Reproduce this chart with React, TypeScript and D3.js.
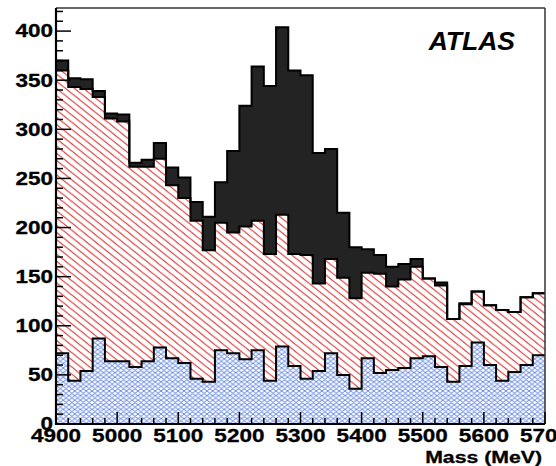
import * as d3 from 'd3';
import { useEffect, useRef } from 'react';

// lower edge of each 20 MeV mass bin
const massBins = [
  4900, 4920, 4940, 4960, 4980, 5000, 5020, 5040, 5060, 5080,
  5100, 5120, 5140, 5160, 5180, 5200, 5220, 5240, 5260, 5280,
  5300, 5320, 5340, 5360, 5380, 5400, 5420, 5440, 5460, 5480,
  5500, 5520, 5540, 5560, 5580, 5600, 5620, 5640, 5660, 5680,
];
const binWidth = 20;

// blue cross-hatched component (bottom of the stack)
const combinatorial = [
  72, 44, 54, 87, 64, 64, 58, 64, 78, 67,
  62, 46, 43, 75, 72, 66, 75, 44, 79, 59,
  46, 54, 72, 50, 36, 67, 52, 55, 57, 67,
  69, 58, 43, 59, 83, 60, 44, 53, 60, 70,
];
// red hatched component
const background = [
  288, 299, 287, 246, 247, 244, 204, 198, 192, 176,
  168, 161, 134, 130, 123, 135, 132, 129, 134, 114,
  126, 89, 96, 99, 92, 87, 101, 85, 90, 93,
  79, 83, 64, 63, 52, 61, 72, 61, 69, 63,
];
// black signal on top
const signal = [
  10, 9, 10, 6, 5, 7, 4, 7, 16, 18,
  21, 19, 34, 41, 83, 123, 157, 171, 191, 187,
  183, 133, 112, 66, 52, 24, 19, 20, 16, 8,
  0, 3, 0, 1, 0, 0, 0, 0, 0, 0,
];

const xTicks = [4900, 5000, 5100, 5200, 5300, 5400, 5500, 5600, 5700];
const yTicks = [0, 50, 100, 150, 200, 250, 300, 350, 400];

const width = 556;
const height = 466;
const plot = { left: 56, right: 545, top: 8, bottom: 424 };
const stretch = 1.25; // the labels in the picture are wide

function App() {
  const dataLayer = useRef(null);
  const axisLayer = useRef(null);

  useEffect(() => {
    const x = d3.scaleLinear().domain([4900, 5700]).range([plot.left, plot.right]);
    const y = d3.scaleLinear().domain([0, 423.5]).range([plot.bottom, plot.top]);

    const rows = massBins.map((m, i) => ({
      mass: m,
      combinatorial: combinatorial[i],
      background: background[i],
      signal: signal[i],
    }));
    const stacked = d3.stack().keys(['combinatorial', 'background', 'signal'])(rows);

    // step points, with a closing point at the upper edge of the last bin
    const steps = (layer) => {
      const pts = layer.map((d) => ({ x: d.data.mass, y0: d[0], y1: d[1] }));
      const last = pts[pts.length - 1];
      pts.push({ x: last.x + binWidth, y0: last.y0, y1: last.y1 });
      return pts;
    };

    const area = d3.area()
      .x((d) => x(d.x))
      .y0((d) => y(d.y0))
      .y1((d) => y(d.y1))
      .curve(d3.curveStepAfter);
    const topLine = d3.line()
      .x((d) => x(d.x))
      .y((d) => y(d.y1))
      .curve(d3.curveStepAfter);

    const g = d3.select(dataLayer.current);
    g.selectAll('*').remove();

    const fills = ['url(#blueCross)', 'url(#redHatch)', '#232323'];
    stacked.forEach((layer, i) => {
      const pts = steps(layer);
      if (i < 2) g.append('path').attr('d', area(pts)).attr('fill', '#fff');
      g.append('path').attr('d', area(pts)).attr('fill', fills[i]);
    });
    stacked.forEach((layer) => {
      g.append('path')
        .attr('d', topLine(steps(layer)))
        .attr('fill', 'none')
        .attr('stroke', '#000')
        .attr('stroke-width', 2);
    });

    // axes, ticks pointing inwards
    const ax = d3.select(axisLayer.current);
    ax.selectAll('*').remove();

    ax.append('line')
      .attr('x1', plot.left).attr('x2', plot.right)
      .attr('y1', plot.top).attr('y2', plot.top)
      .attr('stroke', '#333').attr('stroke-width', 1.5);
    ax.append('line')
      .attr('x1', plot.right).attr('x2', plot.right)
      .attr('y1', plot.top).attr('y2', plot.bottom)
      .attr('stroke', '#333').attr('stroke-width', 1.5);

    const yMinor = d3.range(0, 421, 10);
    ax.selectAll('.ytick').data(yMinor).enter().append('line')
      .attr('x1', plot.left)
      .attr('x2', (d) => plot.left + (d % 50 === 0 ? 15 : 7))
      .attr('y1', (d) => y(d)).attr('y2', (d) => y(d))
      .attr('stroke', '#000').attr('stroke-width', 1.5);

    const xMinor = d3.range(4900, 5701, 20);
    ax.selectAll('.xtick').data(xMinor).enter().append('line')
      .attr('x1', (d) => x(d)).attr('x2', (d) => x(d))
      .attr('y1', plot.bottom)
      .attr('y2', (d) => plot.bottom - (d % 100 === 0 ? 12 : 6))
      .attr('stroke', '#000').attr('stroke-width', 1.5);

    ax.append('line')
      .attr('x1', plot.left).attr('x2', plot.left)
      .attr('y1', plot.top).attr('y2', plot.bottom + 1)
      .attr('stroke', '#000').attr('stroke-width', 2.2);
    ax.append('line')
      .attr('x1', plot.left - 1).attr('x2', plot.right)
      .attr('y1', plot.bottom).attr('y2', plot.bottom)
      .attr('stroke', '#000').attr('stroke-width', 2.2);

    const font = '"Liberation Sans", Arial, sans-serif';
    ax.selectAll('.ylab').data(yTicks).enter().append('text')
      .attr('transform', (d) => `translate(${plot.left - 3},${y(d) + 6.4}) scale(${stretch},1)`)
      .attr('text-anchor', 'end')
      .attr('font-family', font).attr('font-weight', 'bold').attr('font-size', 18)
      .attr('stroke', '#000').attr('stroke-width', 0.3)
      .text((d) => d);
    ax.selectAll('.xlab').data(xTicks).enter().append('text')
      .attr('transform', (d) => `translate(${x(d)},442) scale(${stretch},1)`)
      .attr('text-anchor', 'middle')
      .attr('font-family', font).attr('font-weight', 'bold').attr('font-size', 18)
      .attr('stroke', '#000').attr('stroke-width', 0.3)
      .text((d) => d);

    ax.append('text')
      .attr('transform', `translate(542,463) scale(${stretch},1)`)
      .attr('text-anchor', 'end')
      .attr('font-family', font).attr('font-weight', 'bold').attr('font-size', 17)
      .attr('stroke', '#000').attr('stroke-width', 0.3)
      .text('Mass (MeV)');
    ax.append('text')
      .attr('transform', 'translate(515,50) scale(1.06,1)')
      .attr('text-anchor', 'end')
      .attr('font-family', font).attr('font-weight', 'bold')
      .attr('font-style', 'italic').attr('font-size', 25)
      .text('ATLAS');
  }, []);

  return (
    <div style={{ position: 'absolute', left: 0, top: 0, width, height, overflow: 'hidden', background: '#fff' }}>
      <style>{'body{margin:0;overflow:hidden}'}</style>
      <svg width={width} height={height} viewBox={`0 0 ${width} ${height}`}>
        <defs>
          <pattern id="redHatch" patternUnits="userSpaceOnUse" width={7.2} height={7.2}
            patternTransform={`scale(${stretch},1)`}>
            <path d="M-1,-1 L8.2,8.2 M-1,6.2 L1,8.2 M6.2,-1 L8.2,1" stroke="#e0403f" strokeWidth={1.1} />
          </pattern>
          <pattern id="blueCross" patternUnits="userSpaceOnUse" width={4.6} height={4.6}
            patternTransform={`scale(${stretch},1)`}>
            <path d="M-1,-1 L5.6,5.6 M-1,3.6 L1,5.6 M3.6,-1 L5.6,1 M-1,5.6 L5.6,-1 M-1,1 L1,-1 M3.6,5.6 L5.6,3.6"
              stroke="#5b80e0" strokeWidth={0.8} />
          </pattern>
        </defs>
        <rect x={0} y={0} width={width} height={height} fill="#fff" />
        <g ref={dataLayer} />
        <g ref={axisLayer} />
      </svg>
    </div>
  );
}

export default App;
